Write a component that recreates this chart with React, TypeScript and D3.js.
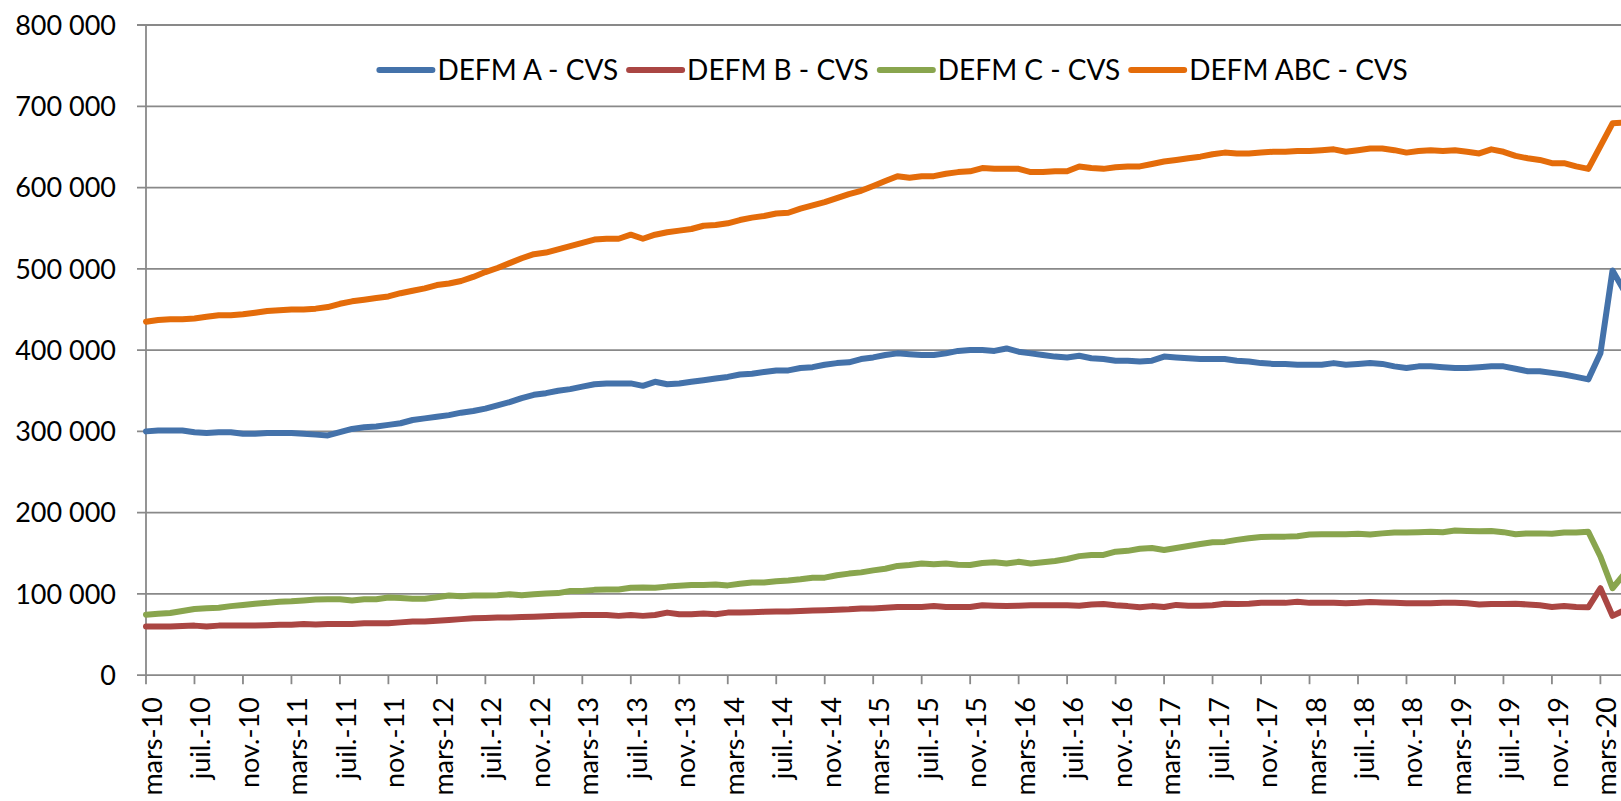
import React, { useRef, useEffect } from 'react';
import * as d3 from 'd3';

// demandeurs d'emploi en fin de mois, milliers, CVS - mars 2010 .. mai 2020
const defmA = [
  300, 301, 301, 301, 299, 298, 299, 299, 297, 297, 298, 298, 298, 297, 296, 295, 299, 303, 305, 306,
  308, 310, 314, 316, 318, 320, 323, 325, 328, 332, 336, 341, 345, 347, 350, 352, 355, 358, 359, 359,
  359, 356, 361, 358, 359, 361, 363, 365, 367, 370, 371, 373, 375, 375, 378, 379, 382, 384, 385, 389,
  391, 394, 396, 395, 394, 394, 396, 399, 400, 400, 399, 402, 398, 396, 394, 392, 391, 393, 390, 389,
  387, 387, 386, 387, 392, 391, 390, 389, 389, 389, 387, 386, 384, 383, 383, 382, 382, 382, 384, 382,
  383, 384, 383, 380, 378, 380, 380, 379, 378, 378, 379, 380, 380, 377, 374, 374, 372, 370, 367, 364,
  396, 498, 472,
];
const defmB = [
  60, 60, 60, 60.5, 61, 60, 61, 61, 61, 61, 61.5, 62, 62, 63, 62.5, 63, 63, 63, 64, 64,
  64, 65, 66, 66, 67, 68, 69, 70, 70.5, 71, 71, 71.5, 72, 72.5, 73, 73.5, 74, 74, 74, 73,
  74, 73, 74, 77, 75, 75, 76, 75, 77, 77, 77.5, 78, 78.5, 78.5, 79, 79.5, 80, 80.5, 81, 82,
  82, 83, 84, 84, 84, 85, 84, 84, 84, 86, 85.5, 85, 85.5, 86, 86, 86, 86, 85.5, 87, 87.5,
  86, 85, 83.5, 85, 84, 86.5, 85.5, 85.5, 86, 88, 87.5, 88, 89, 89, 89, 90.5, 89, 89, 89, 88.5,
  89, 90, 89.5, 89, 88.5, 88.5, 88.5, 89, 89, 88.5, 87, 87.5, 87.5, 88, 87, 86, 84, 85, 84, 83.5,
  107, 73, 80,
];
const defmC = [
  74.5, 75.5, 76.5, 79, 81.5, 82.5, 83, 85, 86.5, 88, 89, 90.5, 91, 92, 93, 93.5, 93.5, 92, 93.5, 93.5,
  95.5, 95, 94, 94, 96, 98, 97, 98, 98, 98.5, 99.5, 98.5, 99.5, 100.5, 101, 103.5, 103.5, 105, 105.5, 105.5,
  107.5, 108, 107.5, 109, 110, 111, 111, 111.5, 110.5, 112.5, 114, 114, 115.5, 116.5, 118, 120, 120, 123, 125, 126.5,
  129, 131, 134.5, 135.5, 137.5, 136.5, 137.5, 136, 135.5, 138, 139, 137.5, 139.5, 137.5, 139, 140.5, 143, 146.5, 148, 148,
  152, 153, 155.5, 156.5, 154, 156.5, 159, 161.5, 163.5, 164, 166.5, 168.5, 170, 170.5, 170.5, 171, 173, 173.5, 173.5, 173.5,
  174, 173, 174.5, 175.5, 175.5, 176, 176.5, 176, 178, 177.5, 177, 177.5, 176, 173.5, 174.5, 174.5, 174, 175.5, 175.5, 176.5,
  146, 107, 125,
];
const defmABC = [
  435, 437, 438, 438, 439, 441, 443, 443, 444, 446, 448, 449, 450, 450, 451, 453, 457, 460, 462, 464,
  466, 470, 473, 476, 480, 482, 485, 490, 496, 501, 507, 513, 518, 520, 524, 528, 532, 536, 537, 537,
  542, 537, 542, 545, 547, 549, 553, 554, 556, 560, 563, 565, 568, 569, 574, 578, 582, 587, 592, 596,
  602, 608, 614, 612, 614, 614, 617, 619, 620, 624, 623, 623, 623, 619, 619, 620, 620, 626, 624, 623,
  625, 626, 626, 629, 632, 634, 636, 638, 641, 643, 642, 642, 643, 644, 644, 645, 645, 646, 647, 644,
  646, 648, 648, 646, 643, 645, 646, 645, 646, 644, 642, 647, 644, 639, 636, 634, 630, 630, 626, 623,
  651, 679, 680,
];

const seriesNames = ['DEFM A - CVS', 'DEFM B - CVS', 'DEFM C - CVS', 'DEFM ABC - CVS'];
const seriesColors = ['#4472AA', '#AA4643', '#89A54E', '#E46C0A'];

const monthNames = ['janv.', 'févr.', 'mars', 'avr.', 'mai', 'juin', 'juil.', 'août', 'sept.', 'oct.', 'nov.', 'déc.'];
const categories = defmA.map((_, i) => `${monthNames[(2 + i) % 12]}-${10 + Math.floor((2 + i) / 12)}`);

const tickLabels = [
  'mars-10', 'juil.-10', 'nov.-10', 'mars-11', 'juil.-11', 'nov.-11', 'mars-12', 'juil.-12',
  'nov.-12', 'mars-13', 'juil.-13', 'nov.-13', 'mars-14', 'juil.-14', 'nov.-14', 'mars-15',
  'juil.-15', 'nov.-15', 'mars-16', 'juil.-16', 'nov.-16', 'mars-17', 'juil.-17', 'nov.-17',
  'mars-18', 'juil.-18', 'nov.-18', 'mars-19', 'juil.-19', 'nov.-19', 'mars-20',
];
const yTicks = [0, 100000, 200000, 300000, 400000, 500000, 600000, 700000, 800000];

const W = 1621;
const H = 801;
const FONT = 'Lato, "Open Sans", sans-serif';

const App: React.FC = () => {
  const svgRef = useRef<SVGSVGElement | null>(null);

  useEffect(() => {
    if (!svgRef.current) return;
    const svg = d3.select(svgRef.current);
    svg.selectAll('*').remove();

    const left = 146;
    const top = 25;
    const bottom = 675.2;
    const step = 12.12;

    const x = d3.scalePoint<string>()
      .domain(categories)
      .range([left, left + step * (categories.length - 1)]);
    const y = d3.scaleLinear().domain([0, 800000]).range([bottom, top]);

    const fr = d3.formatLocale({ decimal: ',', thousands: ' ', grouping: [3], currency: ['', ' €'] });
    const fmt = fr.format(',d');

    const grid = '#898989';

    // gridlines + y labels
    const gy = svg.append('g');
    gy.selectAll('line.grid')
      .data(yTicks)
      .enter()
      .append('line')
      .attr('x1', left - 9)
      .attr('x2', W)
      .attr('y1', (d) => y(d))
      .attr('y2', (d) => y(d))
      .attr('stroke', grid)
      .attr('stroke-width', 1.8);
    gy.selectAll('text')
      .data(yTicks)
      .enter()
      .append('text')
      .attr('x', 116)
      .attr('y', (d) => y(d))
      .attr('dy', '0.36em')
      .attr('text-anchor', 'end')
      .style('font-family', FONT)
      .style('font-size', '27px')
      .attr('fill', '#000')
      .text((d) => fmt(d));

    // y axis line
    svg.append('line')
      .attr('x1', left).attr('x2', left)
      .attr('y1', top).attr('y2', bottom)
      .attr('stroke', grid).attr('stroke-width', 1.8);

    // x ticks + labels
    const gx = svg.append('g');
    gx.selectAll('line')
      .data(tickLabels)
      .enter()
      .append('line')
      .attr('x1', (d) => x(d) || 0)
      .attr('x2', (d) => x(d) || 0)
      .attr('y1', bottom)
      .attr('y2', bottom + 9)
      .attr('stroke', grid)
      .attr('stroke-width', 1.8);
    gx.selectAll('text')
      .data(tickLabels)
      .enter()
      .append('text')
      .attr('transform', (d) => `translate(${(x(d) || 0) + 16},${bottom + 22}) rotate(-90)`)
      .attr('text-anchor', 'end')
      .style('font-family', FONT)
      .style('font-size', '27px')
      .attr('fill', '#000')
      .text((d) => d);

    // series lines
    const series = [defmA, defmB, defmC, defmABC];
    const line = d3.line<number>()
      .x((_, i) => x(categories[i]) || 0)
      .y((d) => y(d * 1000));
    series.forEach((values, k) => {
      svg.append('path')
        .datum(values)
        .attr('d', line)
        .attr('fill', 'none')
        .attr('stroke', seriesColors[k])
        .attr('stroke-width', 6)
        .attr('stroke-linejoin', 'round')
        .attr('stroke-linecap', 'round');
    });

    // legend, centred over the plot
    const legend = svg.append('g');
    const swatch = 53;
    const items = seriesNames.map((name, k) => {
      const g = legend.append('g');
      g.append('line')
        .attr('x1', 0).attr('x2', swatch)
        .attr('y1', 70).attr('y2', 70)
        .attr('stroke', seriesColors[k])
        .attr('stroke-width', 6)
        .attr('stroke-linecap', 'round');
      const t = g.append('text')
        .attr('x', swatch + 5)
        .attr('y', 70)
        .attr('dy', '0.36em')
        .style('font-family', FONT)
        .style('font-size', '28px')
        .attr('fill', '#000')
        .text(name);
      const len = (t.node() as SVGTextElement).getComputedTextLength();
      return { g, w: swatch + 5 + len };
    });
    const gap = 11;
    const total = d3.sum(items, (d) => d.w) + gap * (items.length - 1);
    let cx = 893.5 - total / 2;
    items.forEach((it) => {
      it.g.attr('transform', `translate(${cx},0)`);
      cx += it.w + gap;
    });
  }, []);

  return (
    <div style={{ position: 'absolute', left: 0, top: 0 }}>
      <svg ref={svgRef} width={W} height={H} style={{ display: 'block', background: '#fff' }} />
    </div>
  );
};

export default App;
